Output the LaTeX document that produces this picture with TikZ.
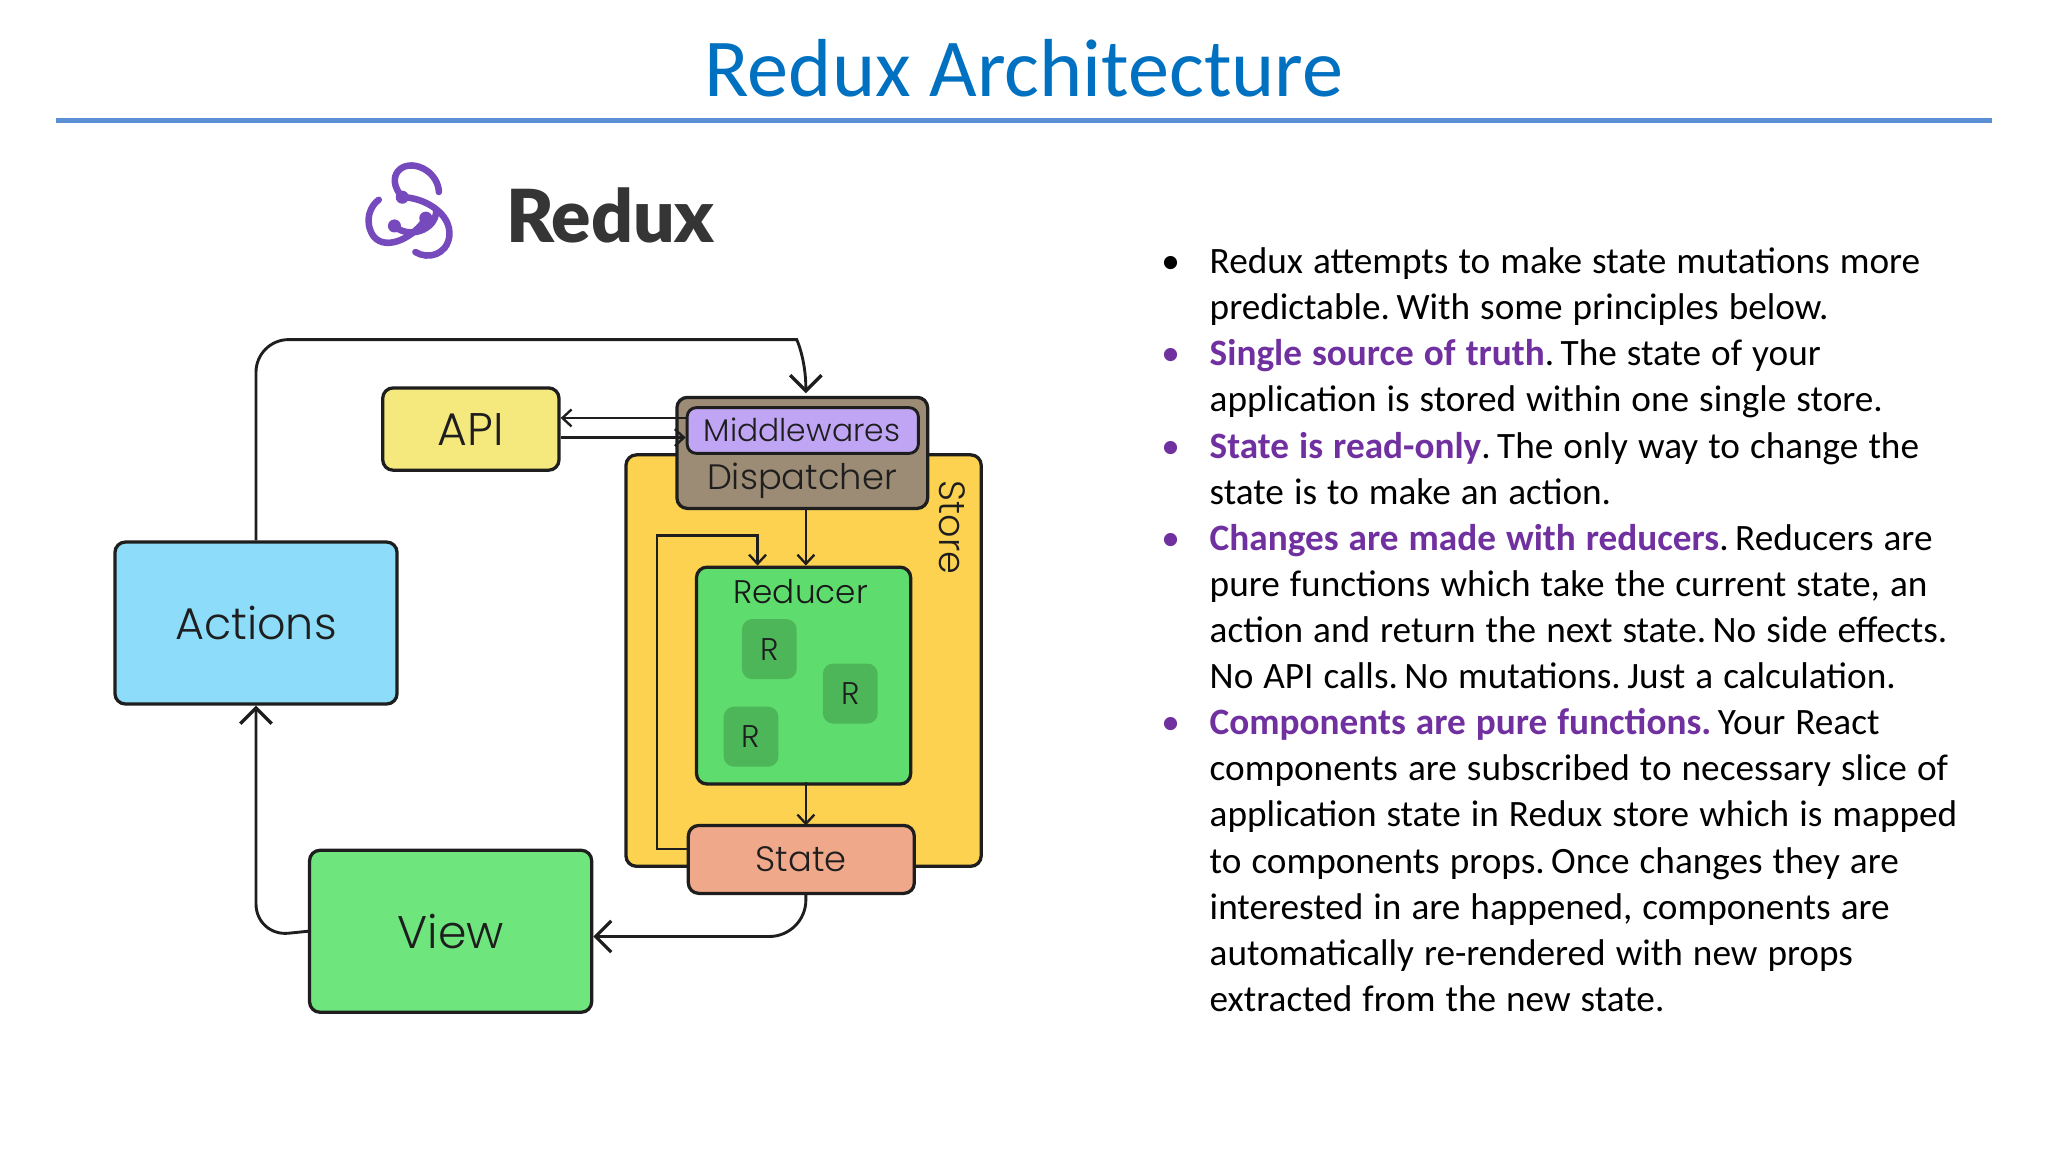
\documentclass[tikz,border=0pt]{standalone}
\usepackage{fontspec}
\setmainfont{Carlito}
\newfontfamily\dg{Poppins}[UprightFont=* Light]
\newfontfamily\logofont{Lato}[UprightFont=* Black]
\usetikzlibrary{arrows.meta}
\definecolor{titleblue}{RGB}{0,112,192}
\definecolor{rulebl}{RGB}{91,143,214}
\definecolor{purp}{RGB}{112,48,160}
\definecolor{apiY}{RGB}{245,233,125}
\definecolor{dispB}{RGB}{156,140,118}
\definecolor{midP}{RGB}{192,165,245}
\definecolor{storeY}{RGB}{253,210,80}
\definecolor{redG}{RGB}{95,220,110}
\definecolor{rG}{RGB}{76,182,88}
\definecolor{stateO}{RGB}{240,168,138}
\definecolor{actB}{RGB}{140,220,250}
\definecolor{viewG}{RGB}{110,230,125}
\definecolor{ink}{RGB}{30,30,30}
\definecolor{logoP}{RGB}{118,74,188}
\tikzset{
 box/.style={draw=ink,line width=2.5pt,rounded corners=8pt,font=\dg,text=ink},
 conn/.style={draw=ink,line width=2.2pt},
 sarr/.style={-{Straight Barb[length=7pt,width=13pt,line width=1.8pt]}},
 barr/.style={-{Straight Barb[length=12pt,width=24pt,line width=2.5pt]}},
 rbox/.style={fill=rG,rounded corners=8pt,minimum width=42pt,minimum height=46pt,font=\dg\fontsize{24}{24}\selectfont,text=ink},
}
\begin{document}
\begin{tikzpicture}[x=1pt,y=-1pt]
\useasboundingbox[fill=white] (0,0) rectangle (1568,882);
% title
\node (title) at (784,52) {\fontsize{63}{63}\selectfont\color{titleblue}Redux Architecture};
\draw[rulebl,line width=4pt] (43,92) -- (1525,92);
% logo
\begin{scope}[shift={(316,163)},logoP,line width=5pt,line cap=round]
 \draw (-8,-12) .. controls (-22,-28) and (-8,-42) .. (8,-34) .. controls (16,-30) and (20,-22) .. (20,-16);
 \draw (-8,-12) .. controls (8,-12) and (30,0) .. (28,18) .. controls (26,32) and (12,36) .. (2,30);
 \draw (10,4) .. controls (2,18) and (-20,30) .. (-30,18) .. controls (-38,6) and (-32,-6) .. (-26,-10);
 \draw (-14,10) .. controls (-4,20) and (18,14) .. (18,-2);
 \fill (-8,-12) circle (5pt) (10,4) circle (5pt) (-14,10) circle (5pt);
\end{scope}
\node[anchor=west,text=ink!90] (logotext) at (384,165) {\logofont\fontsize{56}{56}\selectfont Redux};
% store
\node[box,fill=storeY,minimum width=272pt,minimum height=315pt,anchor=north west] (store) at (478,347) {};
\node[rotate=-90,font=\dg\fontsize{28}{28}\selectfont,text=ink] (storelbl) at (729,404) {Store};
% dispatcher
\node[box,fill=dispB,minimum width=192pt,minimum height=85pt,anchor=north west] (disp) at (517,303) {};
\node[font=\dg\fontsize{27}{27}\selectfont,text=ink] (displbl) at (614,368) {Dispatcher};
\node[box,fill=midP,minimum width=177pt,minimum height=35pt,anchor=north west,line width=2.2pt,rounded corners=7pt] (mid) at (525,311) {};
\node[font=\dg\fontsize{24}{24}\selectfont,text=ink] (midlbl) at (614,329) {Middlewares};
% API
\node[box,fill=apiY,minimum width=135pt,minimum height=63pt,font=\dg\fontsize{35}{35}\selectfont] (api) at (360.5,328.5) {API};
% reducer
\node[box,fill=redG,minimum width=164pt,minimum height=166pt,anchor=north west] (red) at (532,433) {};
\node[font=\dg\fontsize{25}{25}\selectfont,text=ink!85!black] (redlbl) at (613,453) {Reducer};
\node[rbox] (r1) at (589,497) {R};
\node[rbox] (r2) at (651,531) {R};
\node[rbox] (r3) at (575,564) {R};
% state
\node[box,fill=stateO,minimum width=173pt,minimum height=52pt,font=\dg\fontsize{27}{27}\selectfont] (state) at (613.5,658) {State};
% actions, view
\node[box,fill=actB,minimum width=216pt,minimum height=124pt,font=\dg\fontsize{34}{34}\selectfont] (act) at (196,477) {Actions};
\node[box,fill=viewG,minimum width=216pt,minimum height=124pt,font=\dg\fontsize{35}{35}\selectfont] (view) at (345,713) {View};
% connectors
\draw[conn,barr,rounded corners=25pt] (act.north) -- (196,260) -- (585,260) .. controls (610,260) and (617,275) .. (617,301);
\draw[conn,sarr,line width=1.8pt] (525,320) -- (api.east |- 0,320);
\draw[conn,sarr,line width=1.8pt] (api.east |- 0,335) -- (525,335);
\draw[conn,sarr,line width=1.8pt] (617,388) -- (617,433);
\draw[conn,sarr,line width=1.8pt] (527,650) -- (503,650) -- (503,410) -- (580,410) -- (580,433);
\draw[conn,sarr,line width=1.8pt] (617,599) -- (617,632);
\draw[conn,barr,rounded corners=28pt] (617,684) -- (617,717) -- (view.east |- 0,717);
\draw[conn,barr,rounded corners=25pt] (view.west) -- (196,717) -- (act.south);
% bullets
\node[anchor=north west,inner sep=0pt,text width=660pt] (bul) at (886,174) {%
\fontsize{28.5}{35.3}\selectfont\raggedright\spaceskip=0.27em plus 0.05em
\def\bitem#1{\par\noindent\hangindent=40pt\hangafter=1\makebox[40pt][l]{\hspace{3pt}#1\textbullet}}%
\bitem{}Redux attempts to make state mutations more\newline predictable. With some principles below.
\bitem{\color{purp}}{\color{purp}\bfseries Single source of truth}. The state of your\newline application is stored within one single store.
\bitem{\color{purp}}{\color{purp}\bfseries State is read-only}. The only way to change the\newline state is to make an action.
\bitem{\color{purp}}{\color{purp}\bfseries Changes are made with reducers}. Reducers are\newline pure functions which take the current state, an\newline action and return the next state. No side effects.\newline No API calls. No mutations. Just a calculation.
\bitem{\color{purp}}{\color{purp}\bfseries Components are pure functions.} Your React\newline components are subscribed to necessary slice of\newline application state in Redux store which is mapped\newline to components props. Once changes they are\newline interested in are happened, components are\newline automatically re-rendered with new props\newline extracted from the new state.\par};
\end{tikzpicture}
\end{document}
